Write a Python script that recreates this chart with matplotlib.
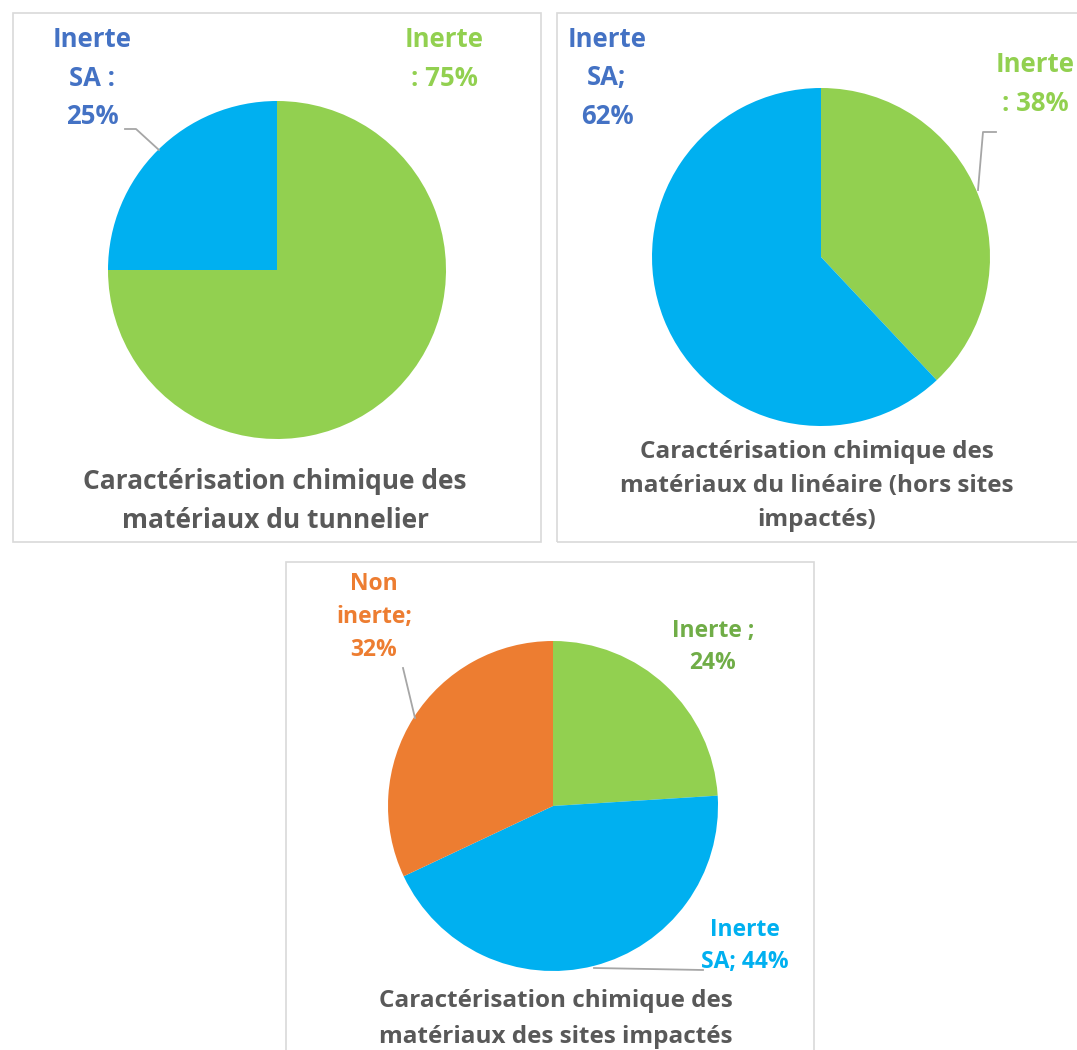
import matplotlib
matplotlib.use("Agg")
import matplotlib.pyplot as plt
from matplotlib.patches import Rectangle
from matplotlib.lines import Line2D

plt.rcParams['font.family'] = ['Open Sans', 'DejaVu Sans']

W, H = 1077, 1050

# data
labels_tunnel = ["Inerte", "Inerte SA"]
values_tunnel = [75, 25]

labels_lineaire = ["Inerte", "Inerte SA"]
values_lineaire = [38, 62]

labels_sites = ["Inerte", "Inerte SA", "Non inerte"]
values_sites = [24, 44, 32]

titles = [
    "Caractérisation chimique des\nmatériaux du tunnelier",
    "Caractérisation chimique des\nmatériaux du linéaire (hors sites\nimpactés)",
    "Caractérisation chimique des\nmatériaux des sites impactés",
]

GREEN = "#92D050"
CYAN = "#00B0F0"
ORANGE = "#ED7D31"
BLUE_TXT = "#4472C4"
GREEN_DARK = "#70AD47"
GRAY = "#595959"

fig = plt.figure(figsize=(W / 100, H / 100), dpi=100)


def fx(x):
    return x / W


def fy(y):
    return 1 - y / H


def box(x0, y0, x1, y1):
    fig.patches.append(Rectangle((fx(x0), fy(y1)), fx(x1 - x0), (y1 - y0) / H,
                                 transform=fig.transFigure, fill=False,
                                 edgecolor="#D9D9D9", linewidth=1.2))


def pie(cx, cy, r, values, colors):
    ax = fig.add_axes([fx(cx - r), fy(cy + r), 2 * r / W, 2 * r / H])
    ax.pie(values, colors=colors, startangle=90, counterclock=False, radius=1)
    ax.set_xlim(-1, 1)
    ax.set_ylim(-1, 1)
    ax.set_aspect("auto")
    ax.axis("off")


def label(x, y, s, color, size=18.5, ls=1.57):
    fig.text(fx(x), fy(y), s, color=color, fontsize=size, fontweight="bold",
             ha="center", va="center", linespacing=ls)


def leader(xs, ys):
    fig.lines.append(Line2D([fx(v) for v in xs], [fy(v) for v in ys],
                            transform=fig.transFigure, color="#A6A6A6", linewidth=1.3))


# boxes
box(13, 13, 541, 542)
box(557, 13, 1090, 542)
box(286, 562, 814, 1060)

# pies
pie(277, 270, 169, values_tunnel, [GREEN, CYAN])
pie(821, 257, 169, values_lineaire, [GREEN, CYAN])
pie(553, 806, 165, values_sites, [GREEN, CYAN, ORANGE])

# data labels
label(92, 78, f"{labels_tunnel[1].split()[0]}\nSA :\n{values_tunnel[1]}%", BLUE_TXT)
label(444, 59, f"{labels_tunnel[0]}\n: {values_tunnel[0]}%", GREEN)
leader([125, 136, 159], [129, 129, 150])

label(607, 78, f"{labels_lineaire[1].split()[0]}\nSA;\n{values_lineaire[1]}%", BLUE_TXT)
label(1035, 84, f"{labels_lineaire[0]}\n: {values_lineaire[0]}%", GREEN)
leader([996, 983, 978], [132, 132, 190])

label(374, 617, "Non\ninerte;\n" + f"{values_sites[2]}%", ORANGE, size=16.5, ls=1.48)
leader([403, 415], [668, 718])
label(713, 647, f"{labels_sites[0]} ;\n{values_sites[0]}%", GREEN_DARK, size=16.5, ls=1.48)
label(745, 946, f"{labels_sites[1].split()[0]}\nSA; {values_sites[1]}%", CYAN, size=16.5, ls=1.48)
leader([594, 703], [968, 970])

# titles
label(275, 501, titles[0], GRAY, size=19, ls=1.56)
label(817, 486, titles[1], GRAY, size=17.5, ls=1.57)
label(556, 1019, titles[2], GRAY, size=17.5, ls=1.65)

fig.savefig("out.png", dpi=100, facecolor="white")
